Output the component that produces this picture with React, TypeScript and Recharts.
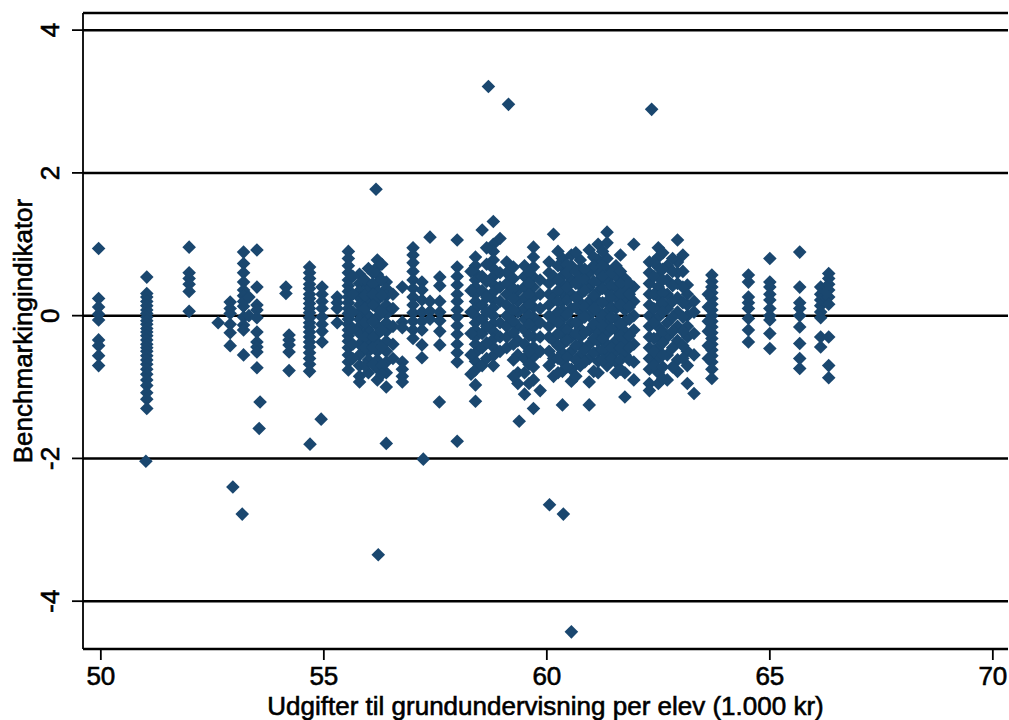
import React from 'react';
import { ScatterChart, Scatter, XAxis, YAxis, CartesianGrid } from 'recharts';

const xTicks = [50, 55, 60, 65, 70];
const yTicks = [-4, -2, 0, 2, 4];
const xTitle = 'Udgifter til grundundervisning per elev (1.000 kr)';
const yTitle = 'Benchmarkingindikator';

// spending level of each column of municipalities
const columnX = [
  49.95, 51.03, 51.98, 52.63, 52.9, 53.2, 53.32, 53.5, 54.15, 54.22, 54.68, 54.96, 55.3,
  55.55, 55.8, 56.0, 56.2, 56.4, 56.76, 57.0, 57.2, 57.38, 57.6, 57.99,
  58.4, 58.55, 58.8, 58.95, 59.1, 59.35, 59.5, 59.7, 59.85,
  60.05, 60.15, 60.35, 60.55, 60.75, 60.95, 61.15, 61.35, 61.55, 61.75, 61.95,
  62.3, 62.5, 62.7, 62.93, 63.15, 63.3, 63.7,
  64.52, 65.0, 65.67, 66.14, 66.32,
  // additional readings inside the dense band
  55.65, 55.92, 56.1, 56.3, 56.55, 58.3, 58.65, 59.25, 59.6, 60.25, 60.45, 60.65, 60.85,
  61.05, 61.25, 61.45, 61.65, 61.85, 62.4, 62.6, 62.82, 63.05, 63.62,
];

// benchmark indicator values in each column
const columnValues = [
  [0.94, 0.24, 0.12, 0.02, -0.06, -0.34, -0.42, -0.56, -0.7],
  [0.54, 0.31, 0.26, 0.2, 0.14, 0.08, 0.03, -0.02, -0.07, -0.12, -0.18, -0.23, -0.28, -0.34, -0.4, -0.45, -0.5, -0.56, -0.62, -0.68, -0.75, -0.82, -0.9, -0.98, -1.08, -1.17, -1.3],
  [0.96, 0.6, 0.52, 0.44, 0.34, 0.06],
  [-0.1],
  [0.19, 0.1, 0.03, -0.12, -0.24, -0.42],
  [0.89, 0.73, 0.6, 0.47, 0.36, 0.28, 0.2, 0.13, -0.02, -0.13, -0.2, -0.55],
  [0.26, 0.0],
  [0.92, 0.4, 0.15, 0.08, -0.03, -0.23, -0.37, -0.44, -0.51, -0.73],
  [0.4, 0.31],
  [-0.27, -0.34, -0.41, -0.51, -0.77],
  [0.68, 0.6, 0.52, 0.44, 0.38, 0.3, 0.24, 0.17, 0.1, 0.04, -0.03, -0.1, -0.16, -0.23, -0.3, -0.37, -0.44, -0.52, -0.6, -0.68, -0.78],
  [0.4, 0.3, 0.2, 0.1, -0.02, -0.12, -0.22, -0.37],
  [0.26, 0.18, 0.1, -0.1],
  [0.9, 0.8, 0.7, 0.6, 0.5, 0.42, 0.34, 0.26, 0.18, 0.1, 0.03, -0.05, -0.12, -0.2, -0.28, -0.36, -0.45, -0.55, -0.65, -0.76],
  [0.58, 0.45, 0.35, 0.25, 0.15, 0.05, -0.05, -0.15, -0.25, -0.4, -0.55, -0.7, -0.85, -0.93],
  [0.66, 0.4, 0.2, 0.0, -0.2, -0.35, -0.5, -0.62, -0.8],
  [0.78, 0.68, 0.58, 0.46, 0.34, 0.22, 0.1, -0.02, -0.14, -0.26, -0.38, -0.5, -0.62, -0.74, -0.9],
  [0.47, 0.38, 0.28, 0.15, 0.02, -0.1, -0.22, -0.36, -0.5, -0.65, -0.8, -1.0],
  [0.4, -0.09, -0.17, -0.65, -0.75, -0.85, -0.93],
  [0.95, 0.85, 0.74, 0.62, 0.5, 0.38, 0.26, 0.15, 0.04, -0.08, -0.2, -0.32],
  [0.47, 0.36, 0.22, 0.05, -0.08, -0.2, -0.41, -0.59],
  [1.1, 0.2, 0.06, -0.05],
  [0.54, 0.42, 0.2, 0.05, -0.07, -0.22, -0.41],
  [1.06, 0.68, 0.55, 0.43, 0.3, 0.2, 0.08, -0.02, -0.14, -0.26, -0.4, -0.52, -0.65],
  [0.82, 0.7, 0.6, 0.5, 0.4, 0.3, 0.2, 0.1, 0.0, -0.1, -0.2, -0.3, -0.4, -0.52, -0.64, -0.76, -0.97, -1.2],
  [1.2, 0.55, 0.35, 0.15, -0.05, -0.25, -0.45, -0.7],
  [1.32, 1.0, 0.9, 0.78, 0.66, 0.55, 0.44, 0.33, 0.22, 0.11, 0.0, -0.11, -0.22, -0.33, -0.44, -0.56, -0.7],
  [1.08, 0.6, 0.4, 0.2, -0.1, -0.3, -0.5],
  [0.75, 0.6, 0.45, 0.3, 0.15, 0.0, -0.15, -0.3, -0.45],
  [0.35, 0.2, 0.05, -0.15, -0.35, -0.55, -0.8, -0.95],
  [0.7, 0.55, 0.4, 0.25, 0.1, -0.05, -0.2, -0.4, -0.6, -0.8, -1.1],
  [0.96, 0.82, 0.68, 0.54, 0.4, 0.26, 0.12, -0.02, -0.16, -0.3, -0.44, -0.58, -0.72, -0.9, -1.3],
  [0.5, 0.3, 0.1, -0.1, -0.3, -0.5, -1.05],
  [0.75, 0.6, 0.45, 0.3, 0.15, 0.0, -0.15, -0.3, -0.5, -0.7],
  [1.14, 0.55, 0.25, -0.05, -0.35, -0.6, -0.85],
  [0.8, 0.68, 0.56, 0.44, 0.32, 0.2, 0.08, -0.04, -0.16, -0.28, -0.4, -0.52, -0.64, -0.78, -1.25],
  [0.85, 0.7, 0.5, 0.3, 0.1, -0.1, -0.3, -0.5, -0.75, -0.92],
  [0.78, 0.66, 0.54, 0.42, 0.3, 0.18, 0.06, -0.06, -0.18, -0.3, -0.42, -0.56, -0.7],
  [0.92, 0.6, 0.4, 0.2, 0.0, -0.2, -0.4, -0.6, -0.93, -1.25],
  [1.0, 0.78, 0.62, 0.48, 0.34, 0.2, 0.06, -0.08, -0.22, -0.36, -0.5, -0.64, -0.8],
  [1.17, 1.02, 0.8, 0.65, 0.5, 0.35, 0.2, 0.05, -0.1, -0.25, -0.4, -0.55, -0.7],
  [0.7, 0.55, 0.4, 0.25, 0.1, -0.05, -0.2, -0.35, -0.5, -0.65, -0.8],
  [0.52, 0.38, 0.22, 0.08, -0.08, -0.22, -0.38, -0.55, -0.8, -1.14],
  [1.0, 0.4, 0.2, 0.0, -0.2, -0.4, -0.65, -0.9],
  [0.75, 0.6, 0.45, 0.3, 0.15, 0.0, -0.15, -0.3, -0.45, -0.6, -0.75, -0.95, -1.05],
  [0.95, 0.82, 0.68, 0.54, 0.4, 0.26, 0.12, -0.02, -0.16, -0.3, -0.44, -0.6, -0.8, -0.95],
  [0.7, 0.5, 0.3, 0.1, -0.1, -0.3, -0.55, -0.9],
  [1.06, 0.75, 0.6, 0.45, 0.25, 0.05, -0.15, -0.35, -0.62, -0.78],
  [0.43, 0.3, 0.15, 0.0, -0.15, -0.3, -0.5, -0.7, -0.95],
  [0.2, 0.05, -0.25, -0.55, -1.09],
  [0.57, 0.48, 0.4, 0.32, 0.24, 0.16, 0.08, 0.0, -0.08, -0.16, -0.24, -0.32, -0.4, -0.48, -0.56, -0.65, -0.75, -0.88],
  [0.57, 0.47, 0.26, 0.18, 0.1, -0.04, -0.2, -0.37],
  [0.8, 0.47, 0.4, 0.3, 0.22, 0.1, 0.0, -0.06, -0.25, -0.46],
  [0.89, 0.4, 0.18, 0.1, 0.0, -0.16, -0.39, -0.6, -0.74],
  [0.4, 0.3, 0.22, 0.14, 0.05, -0.03, -0.3, -0.44],
  [0.59, 0.52, 0.44, 0.36, 0.26, 0.16, -0.3, -0.7, -0.87],
  // additional readings inside the dense band
  [0.55, 0.3, 0.05, -0.18, -0.4, -0.6],
  [0.5, 0.28, 0.1, -0.1, -0.3, -0.45, -0.7],
  [0.6, 0.45, 0.3, 0.15, -0.08, -0.3, -0.45, -0.68],
  [0.72, 0.5, 0.28, 0.05, -0.2, -0.44, -0.7, -0.82],
  [0.3, 0.1, -0.15, -0.4, -0.6],
  [0.62, 0.35, 0.05, -0.25, -0.55, -0.82],
  [0.95, 0.72, 0.48, 0.26, 0.05, -0.15, -0.38, -0.6],
  [0.68, 0.52, 0.38, 0.24, 0.08, -0.08, -0.24, -0.4, -0.62, -0.85],
  [0.6, 0.45, 0.3, 0.15, -0.0, -0.12, -0.28, -0.5, -0.68, -0.95],
  [0.9, 0.7, 0.5, 0.35, 0.2, 0.05, -0.1, -0.25, -0.42, -0.6, -0.8],
  [0.72, 0.6, 0.4, 0.22, 0.02, -0.2, -0.35, -0.58, -0.72],
  [0.88, 0.62, 0.45, 0.25, 0.12, -0.1, -0.25, -0.42, -0.62, -0.85],
  [0.65, 0.5, 0.35, 0.12, -0.02, -0.24, -0.48, -0.65],
  [0.82, 0.7, 0.48, 0.28, 0.1, -0.12, -0.32, -0.52, -0.78],
  [0.9, 0.7, 0.55, 0.38, 0.18, 0.0, -0.15, -0.32, -0.48, -0.62],
  [0.6, 0.42, 0.28, 0.12, -0.02, -0.18, -0.45, -0.6],
  [0.85, 0.62, 0.45, 0.3, 0.15, -0.12, -0.28, -0.45, -0.62, -0.75],
  [0.45, 0.3, 0.12, -0.05, -0.28, -0.45, -0.62],
  [0.75, 0.55, 0.3, 0.1, -0.1, -0.32, -0.5, -0.7],
  [0.88, 0.65, 0.5, 0.32, 0.18, 0.05, -0.22, -0.38, -0.55, -0.72, -0.88],
  [0.8, 0.62, 0.42, 0.2, -0.02, -0.22, -0.45, -0.72],
  [0.85, 0.62, 0.4, 0.18, -0.02, -0.22, -0.42, -0.6],
  [0.3, 0.12, -0.08, -0.22, -0.42, -0.6],
  [0.45, 0.2, -0.05, -0.3, -0.55, -0.72],
];

// isolated points
const outlierX = [56.17, 58.69, 59.14, 62.35, 51.01, 52.96, 53.17, 53.57, 53.55, 54.69, 54.94, 56.22, 56.4, 57.23, 57.59, 57.99, 59.38, 60.06, 60.37, 60.55];
const outlierY = [1.77, 3.21, 2.96, 2.89, -2.04, -2.4, -2.78, -1.21, -1.58, -1.8, -1.45, -3.35, -1.79, -2.01, -1.21, -1.76, -1.48, -2.65, -2.78, -4.43];

const points: { x: number; y: number }[] = [];
columnX.forEach((x, i) => columnValues[i].forEach((y) => points.push({ x, y })));
outlierX.forEach((x, i) => points.push({ x, y: outlierY[i] }));

const FONT = '"Liberation Sans", Arial, Helvetica, sans-serif';
const NAVY = '#1a476f';
const textStyle = { fontFamily: FONT, fontSize: 26, fill: '#000', stroke: '#000', strokeWidth: 0.6 };

const Diamond = (p: any) => {
  const { cx, cy } = p;
  const r = 6.8;
  return <path d={`M${cx},${cy - r}L${cx + r},${cy}L${cx},${cy + r}L${cx - r},${cy}Z`} fill={NAVY} />;
};

const YTick = (p: any) => {
  const tx = p.x - 11;
  return (
    <text x={tx} y={p.y} transform={`rotate(-90, ${tx}, ${p.y})`} textAnchor="middle" style={textStyle}>
      {p.payload.value}
    </text>
  );
};

const XTick = (p: any) => (
  <text x={p.x} y={p.y + 23} textAnchor="middle" style={textStyle}>
    {p.payload.value}
  </text>
);

export default function App() {
  return (
    <div style={{ position: 'absolute', left: 0, top: 0, width: 1009, height: 720, background: '#fff' }}>
      <ScatterChart width={1009} height={720} margin={{ top: 13, right: 1, bottom: 0, left: 0 }}>
        <CartesianGrid vertical={false} stroke="#000" strokeWidth={2.5} />
        <XAxis
          type="number"
          dataKey="x"
          domain={[49.6, 70.34]}
          ticks={xTicks}
          allowDataOverflow
          height={71}
          tickSize={11}
          tick={<XTick />}
          axisLine={{ stroke: '#000', strokeWidth: 1.8 }}
          tickLine={{ stroke: '#000', strokeWidth: 1.8 }}
          label={{
            content: (props: any) => {
              const vb = props.viewBox;
              return (
                <text x={vb.x + vb.width / 2} y={715} textAnchor="middle" style={textStyle}>
                  {xTitle}
                </text>
              );
            },
          }}
        />
        <YAxis
          type="number"
          dataKey="y"
          domain={[-4.67, 4.24]}
          ticks={yTicks}
          allowDataOverflow
          width={83}
          tickSize={11}
          tick={<YTick />}
          axisLine={{ stroke: '#000', strokeWidth: 1.8 }}
          tickLine={{ stroke: '#000', strokeWidth: 1.8 }}
          label={{
            content: (props: any) => {
              const vb = props.viewBox;
              const cy = vb.y + vb.height / 2;
              return (
                <text x={32} y={cy} transform={`rotate(-90, 32, ${cy})`} textAnchor="middle" style={textStyle}>
                  {yTitle}
                </text>
              );
            },
          }}
        />
        <Scatter data={points} shape={<Diamond />} isAnimationActive={false} />
      </ScatterChart>
    </div>
  );
}
